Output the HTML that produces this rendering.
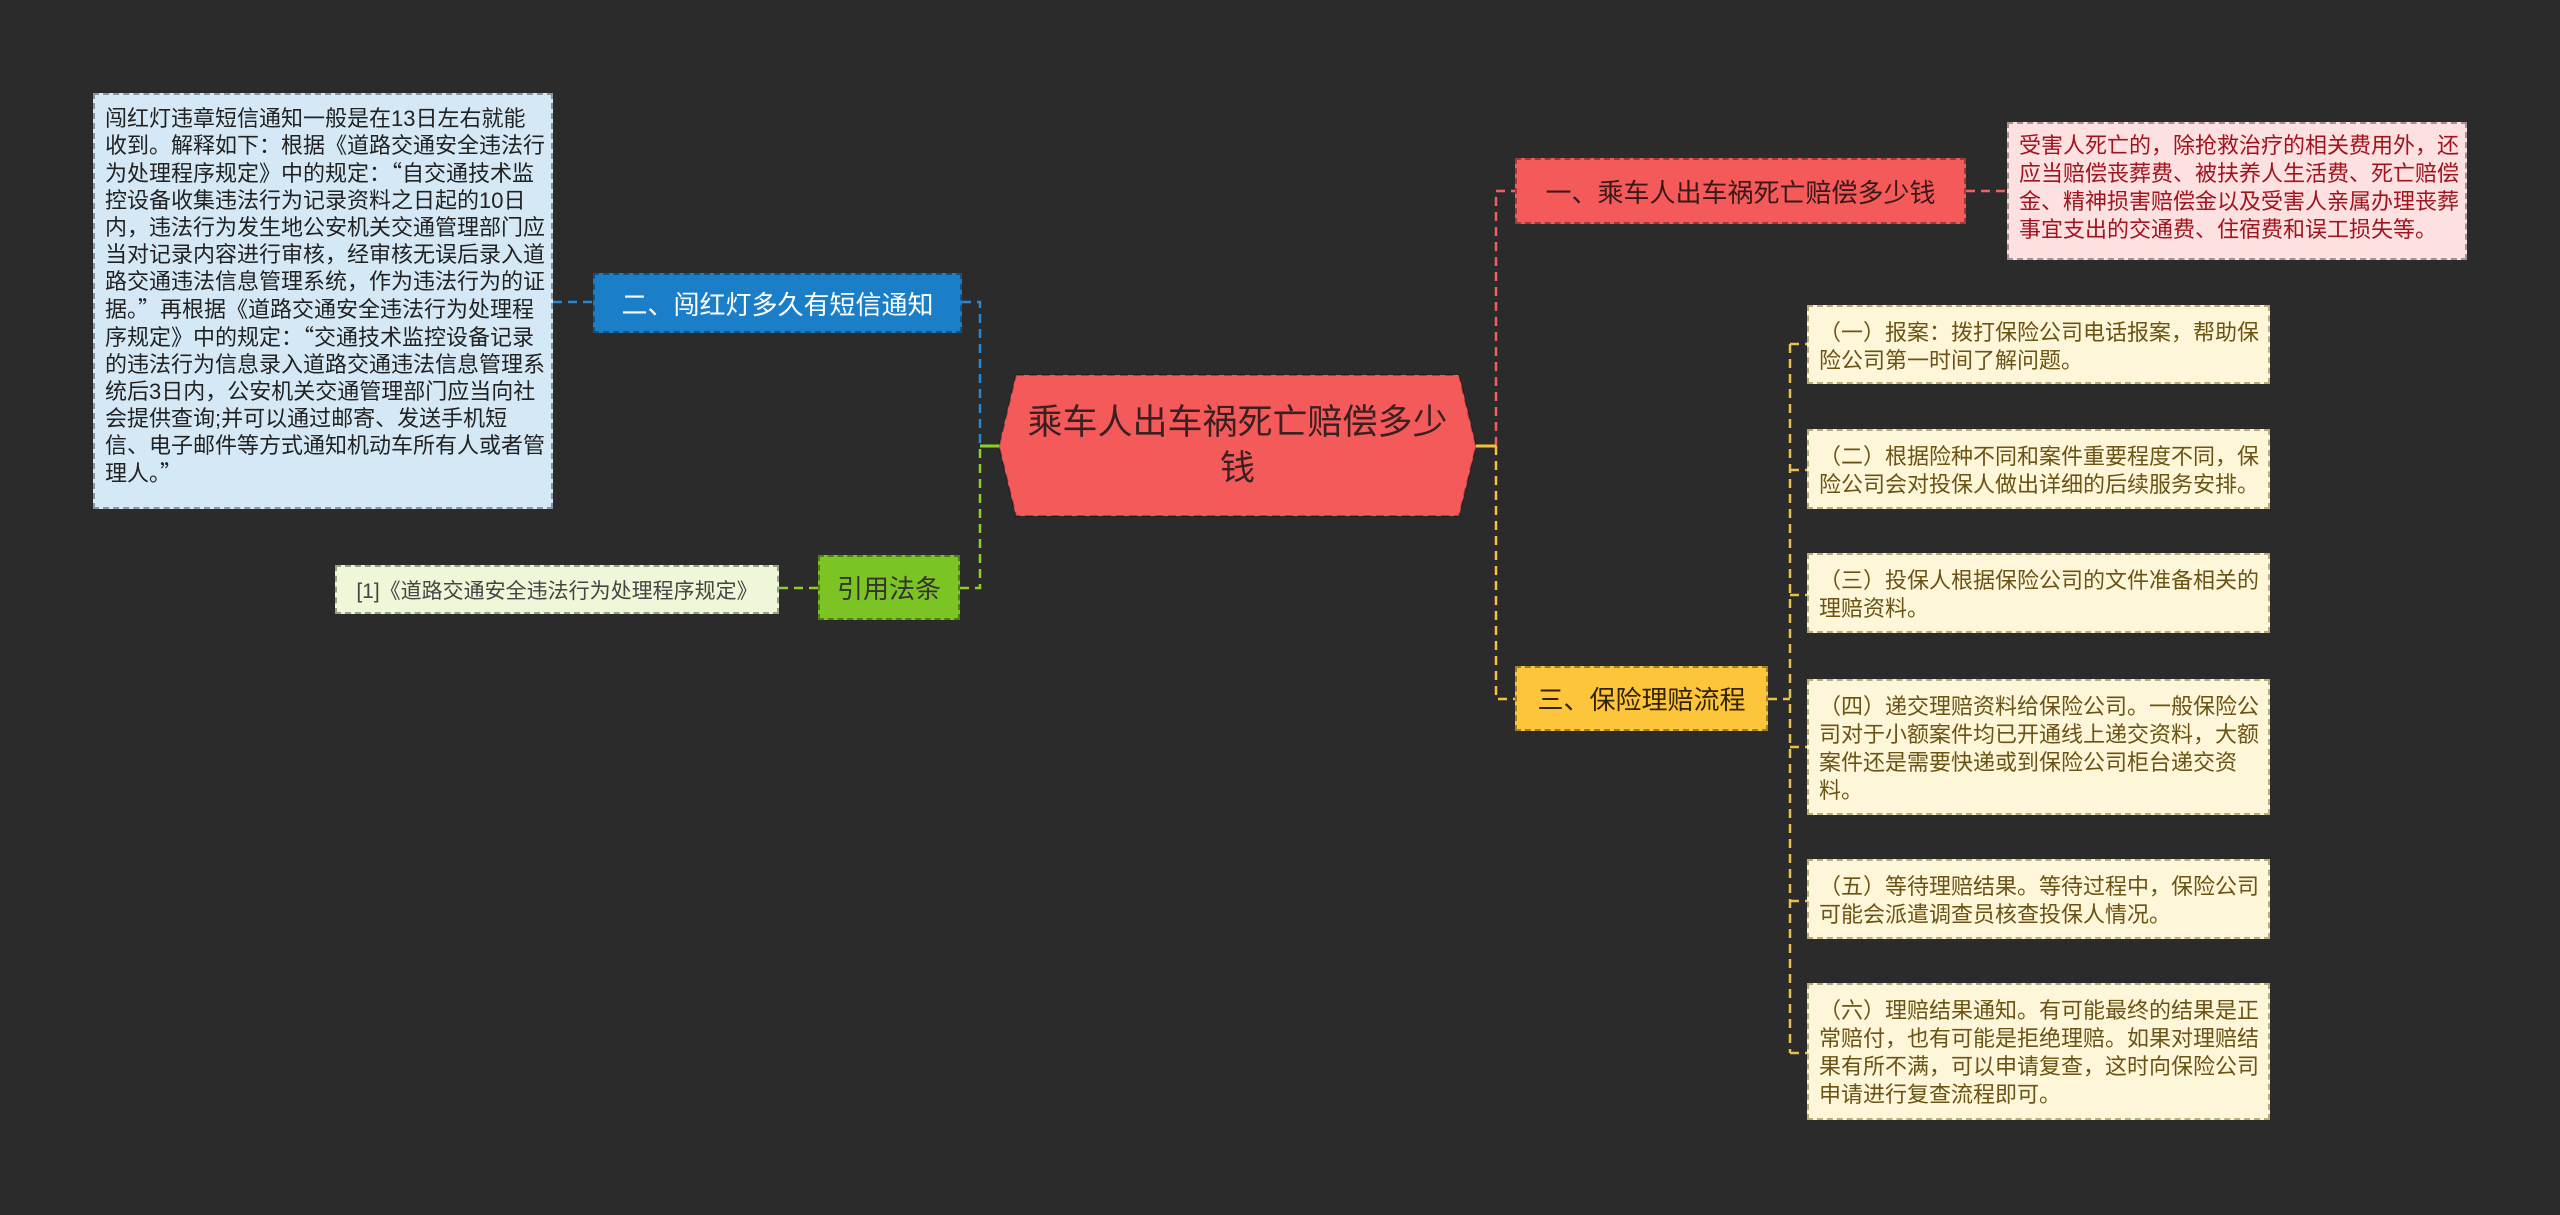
<!DOCTYPE html>
<html><head><meta charset="utf-8"><style>
html,body{margin:0;padding:0;background:#2b2b2b;}
body{width:2560px;height:1215px;position:relative;overflow:hidden;font-family:"Liberation Sans","Noto Sans CJK SC",sans-serif;}
.b{position:absolute;box-sizing:border-box;border:2px dashed rgba(0,0,0,0.35);}
.n{display:flex;align-items:center;justify-content:center;white-space:nowrap;}
.d{font-size:22px;line-height:25.4px;padding:12px 6px 0 10px;}
.q{font-family:"Noto Sans CJK SC",sans-serif;}
.c{background:#fdf6d8;color:#6b5315;font-size:22px;line-height:28px;padding:12px 6px 0 10px;left:1807px;width:463px;border-color:rgba(120,100,40,0.5);}
</style></head><body>
<svg width="2560" height="1215" style="position:absolute;left:0;top:0">
<g fill="none" stroke-width="2.5" stroke-dasharray="9,6">
<path d="M962 302 H980 V446" stroke="#2a86d0"/>
<path d="M553 302 H593" stroke="#2a86d0"/>
<path d="M960 588 H980 V446" stroke="#8ccf2a"/>
<path d="M779 588 H818" stroke="#8ccf2a"/>
<path d="M1496 446 V191 H1515" stroke="#f06060"/>
<path d="M1966 191 H2007" stroke="#f06060"/>
<path d="M1496 446 V699 H1515" stroke="#f5c040"/>
<path d="M1768 699 H1790 M1790 344 V1053 M1790 344 H1807 M1790 470 H1807 M1790 595 H1807 M1790 747 H1807 M1790 901 H1807 M1790 1053 H1807" stroke="#e8c050"/>
</g>
<path d="M980 446 H999" stroke="#8ccf2a" stroke-width="3"/>
<path d="M1476 446 H1496" stroke="#f5c040" stroke-width="3"/>
<polygon points="1016,375 1459,375 1476,446 1459,516 1016,516 999,446" fill="#f55a5a" stroke="rgba(0,0,0,0.3)" stroke-width="2" stroke-dasharray="8,5"/>
</svg>
<div class="n" style="position:absolute;left:1020px;top:375px;width:435px;height:141px;white-space:normal;text-align:center;font-size:35px;line-height:46px;color:#3a2020;">乘车人出车祸死亡赔偿多少钱</div>

<div class="b d" style="left:93px;top:93px;width:460px;height:416px;background:#d4e8f6;color:#222;line-height:27px;padding-top:10px;">闯红灯违章短信通知一般是在13日左右就能收到。解释如下：根据《道路交通安全违法行为处理程序规定》中的规定：<span class="q">“</span>自交通技术监控设备收集违法行为记录资料之日起的10日内，违法行为发生地公安机关交通管理部门应当对记录内容进行审核，经审核无误后录入道路交通违法信息管理系统，作为违法行为的证据。<span class="q">”</span>再根据《道路交通安全违法行为处理程序规定》中的规定：<span class="q">“</span>交通技术监控设备记录的违法行为信息录入道路交通违法信息管理系统后3日内，公安机关交通管理部门应当向社会提供查询;并可以通过邮寄、发送手机短信、电子邮件等方式通知机动车所有人或者管理人。<span class="q">”</span></div>
<div class="b n" style="left:593px;top:273px;width:369px;height:60px;background:#1a7fc8;color:#fff;font-size:26px;">二、闯红灯多久有短信通知</div>
<div class="b n" style="left:818px;top:555px;width:142px;height:65px;background:#7cc423;color:#333;font-size:26px;">引用法条</div>
<div class="b n" style="left:335px;top:565px;width:444px;height:49px;background:#eef7d8;color:#444;font-size:21px;">[1]《道路交通安全违法行为处理程序规定》</div>

<div class="b n" style="left:1515px;top:158px;width:451px;height:66px;background:#f55a5a;color:#3a1818;font-size:26px;">一、乘车人出车祸死亡赔偿多少钱</div>
<div class="b d" style="left:2007px;top:122px;width:460px;height:138px;background:#fde0e0;color:#a0141e;line-height:28px;padding-top:8px;">受害人死亡的，除抢救治疗的相关费用外，还应当赔偿丧葬费、被扶养人生活费、死亡赔偿金、精神损害赔偿金以及受害人亲属办理丧葬事宜支出的交通费、住宿费和误工损失等。</div>
<div class="b n" style="left:1515px;top:666px;width:253px;height:65px;background:#fcc53a;color:#332200;font-size:26px;">三、保险理赔流程</div>

<div class="b c" style="top:305px;height:79px;">（一）报案：拨打保险公司电话报案，帮助保险公司第一时间了解问题。</div>
<div class="b c" style="top:429px;height:80px;">（二）根据险种不同和案件重要程度不同，保险公司会对投保人做出详细的后续服务安排。</div>
<div class="b c" style="top:553px;height:80px;">（三）投保人根据保险公司的文件准备相关的理赔资料。</div>
<div class="b c" style="top:679px;height:136px;">（四）递交理赔资料给保险公司。一般保险公司对于小额案件均已开通线上递交资料，大额案件还是需要快递或到保险公司柜台递交资料。</div>
<div class="b c" style="top:859px;height:80px;">（五）等待理赔结果。等待过程中，保险公司可能会派遣调查员核查投保人情况。</div>
<div class="b c" style="top:983px;height:137px;">（六）理赔结果通知。有可能最终的结果是正常赔付，也有可能是拒绝理赔。如果对理赔结果有所不满，可以申请复查，这时向保险公司申请进行复查流程即可。</div>
</body></html>
